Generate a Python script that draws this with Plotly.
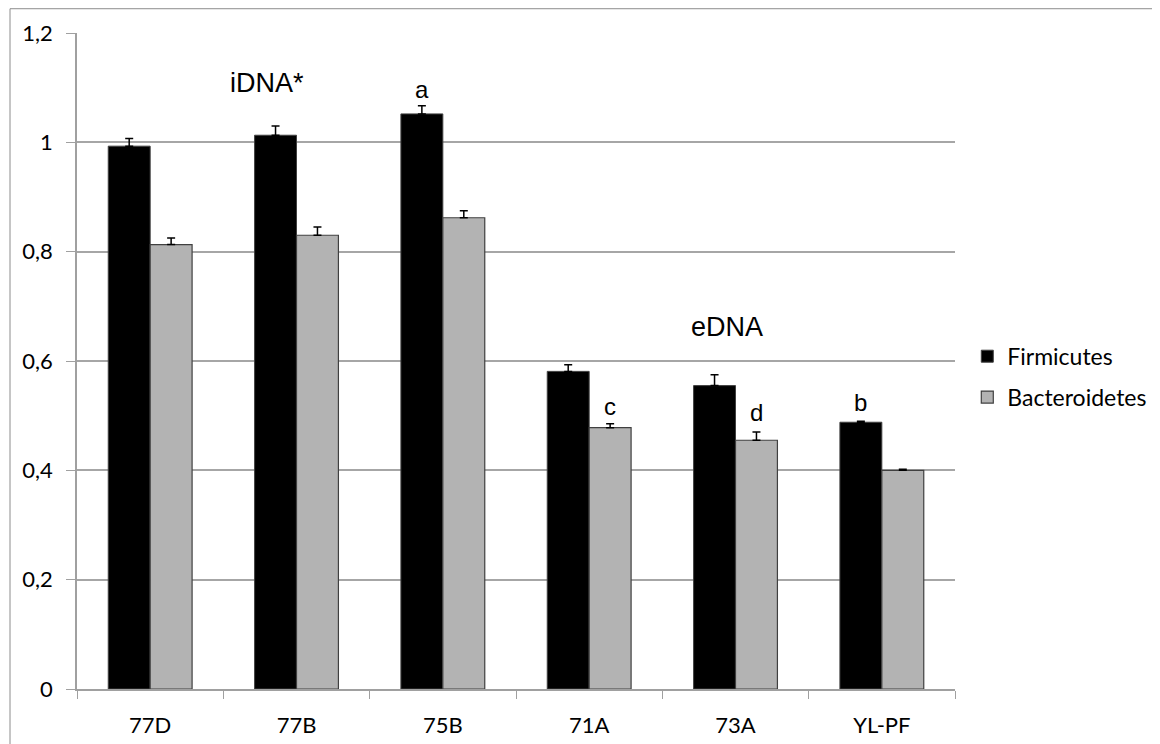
import plotly.graph_objects as go

categories = ["77D", "77B", "75B", "71A", "73A", "YL-PF"]
firmicutes = [0.993, 1.013, 1.052, 0.581, 0.555, 0.488]
firmicutes_err = [0.014, 0.017, 0.015, 0.012, 0.020, 0.002]
bacteroidetes = [0.813, 0.830, 0.862, 0.478, 0.455, 0.400]
bacteroidetes_err = [0.012, 0.015, 0.013, 0.007, 0.015, 0.002]
no_err = [0, 0, 0, 0, 0, 0]
y_ticks = [0, 0.2, 0.4, 0.6, 0.8, 1.0, 1.2]
y_tick_text = ["0", "0,2", "0,4", "0,6", "0,8", "1", "1,2"]

AX_FONT = "Lato, Carlito, Calibri, sans-serif"
AN_FONT = "Liberation Sans, Arial, sans-serif"

fig = go.Figure()
fig.add_trace(go.Bar(
    name="Firmicutes", x=categories, y=firmicutes,
    marker=dict(color="#000000", line=dict(color="#404040", width=1)),
    error_y=dict(type="data", symmetric=False, array=firmicutes_err, arrayminus=no_err,
                 color="#000000", thickness=1.5, width=4),
    legendgroup="f",
))
fig.add_trace(go.Bar(
    name="Bacteroidetes", x=categories, y=bacteroidetes,
    marker=dict(color="#b3b3b3", line=dict(color="#404040", width=1.2)),
    error_y=dict(type="data", symmetric=False, array=bacteroidetes_err, arrayminus=no_err,
                 color="#000000", thickness=1.5, width=4),
    legendgroup="b",
))

annots = [
    dict(x=0.80, y=1.108, text="iDNA*", size=27),
    dict(x=1.857, y=1.097, text="a", size=24),
    dict(x=3.94, y=0.662, text="eDNA", size=27),
    dict(x=3.143, y=0.516, text="c", size=24),
    dict(x=4.143, y=0.505, text="d", size=24),
    dict(x=4.857, y=0.525, text="b", size=24),
]
for a in annots:
    fig.add_annotation(x=a["x"], y=a["y"], xref="x", yref="y", text=a["text"],
                       showarrow=False, font=dict(family=AN_FONT, size=a["size"], color="#000000"))

# outer chart frame (left and top edges)
fig.add_shape(type="line", xref="paper", yref="paper", x0=-0.0763, x1=-0.0763, y0=-0.2, y1=1.037,
              line=dict(color="#8c8c8c", width=1))
fig.add_shape(type="line", xref="paper", yref="paper", x0=-0.0763, x1=1.3, y0=1.037, y1=1.037,
              line=dict(color="#8c8c8c", width=1))

fig.update_layout(
    width=1144, height=736,
    margin=dict(l=69, r=197, t=25, b=55, autoexpand=False),
    paper_bgcolor="white", plot_bgcolor="white",
    barmode="group", bargap=0.427, bargroupgap=0,
    showlegend=True,
    legend=dict(x=1.014, y=0.476, xanchor="left", yanchor="middle",
                font=dict(family=AX_FONT, size=23, color="#000000"),
                traceorder="grouped", tracegroupgap=8, itemwidth=30,
                bgcolor="rgba(0,0,0,0)"),
    xaxis=dict(
        type="category", showline=True, linecolor="#a0a0a0", linewidth=1.5,
        ticks="outside", ticklen=8, tickcolor="#a0a0a0", tickson="boundaries",
        tickfont=dict(family=AX_FONT, size=22, color="#000000"),
        showgrid=False, ticklabelstandoff=16,
    ),
    yaxis=dict(
        range=[0, 1.2], tickvals=y_ticks, ticktext=y_tick_text,
        showline=True, linecolor="#a0a0a0", linewidth=1.5,
        ticks="outside", ticklen=9, tickcolor="#a0a0a0",
        showgrid=True, gridcolor="#a6a6a6", gridwidth=1.5,
        tickfont=dict(family=AX_FONT, size=22, color="#000000"),
        zeroline=False, ticklabelstandoff=9,
    ),
)

fig.write_html("out.html")
